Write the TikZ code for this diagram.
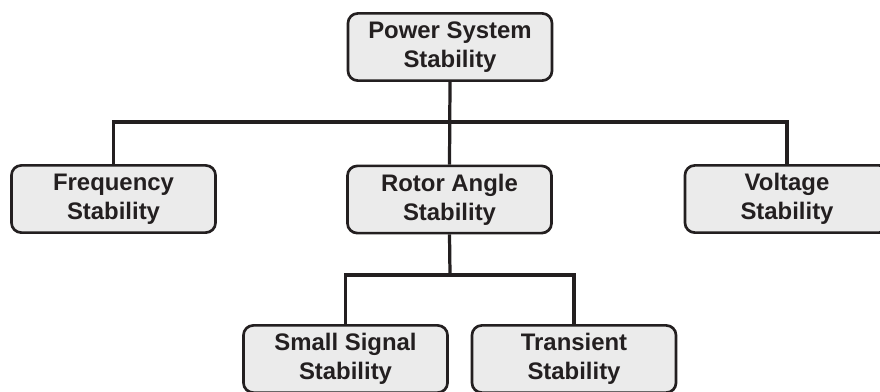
\documentclass[tikz,border=0pt]{standalone}
\usepackage{fontspec}
\setmainfont{Liberation Sans}
\definecolor{boxgray}{RGB}{235,235,235}
\definecolor{ink}{RGB}{35,31,32}
\tikzset{stab/.style={draw=ink,fill=boxgray,rounded corners=7pt,line width=1.9pt,
    minimum width=5.1cm,minimum height=1.68cm,align=center,text=ink,
    font=\fontsize{17}{20.5}\selectfont\bfseries},
  wire/.style={draw=ink,line width=2.3pt}}

\begin{document}
\begin{tikzpicture}[x=0.025cm,y=-0.025cm]
  \clip (0,0) rectangle (880,391);
  \node[stab] (pss) at (450,47) {Power System\\Stability};
  \node[stab] (freq) at (113.5,199) {Frequency\\Stability};
  \node[stab] (rotor) at (449.5,199.5) {Rotor Angle\\Stability};
  \node[stab] (volt) at (787,199) {Voltage\\Stability};
  \node[stab] (small) at (345.5,359) {Small Signal\\Stability};
  \node[stab] (trans) at (574,359) {Transient\\Stability};
  % branches
  \coordinate (bus) at (450,122);
  \coordinate (sub) at (450,275);
  \draw[wire] (pss.south) -- (rotor.north);
  \draw[wire] (freq.north) |- (bus) -| (volt.north);
  \draw[wire] (rotor.south) -- (sub);
  \draw[wire] (small.north) |- (sub) -| (trans.north);
\end{tikzpicture}
\end{document}
